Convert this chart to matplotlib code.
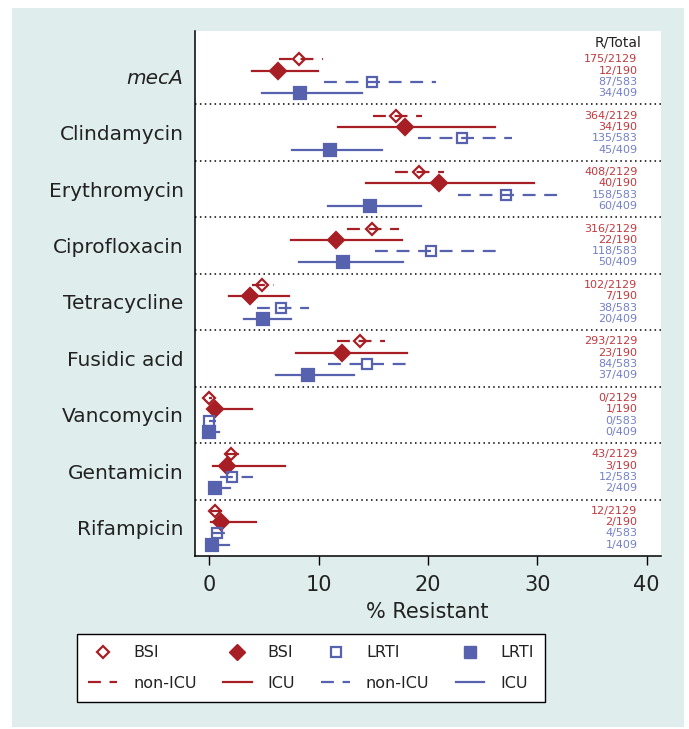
import numpy as np
import matplotlib
import matplotlib.pyplot as plt
from matplotlib.lines import Line2D
from matplotlib.patches import Rectangle

matplotlib.use('agg')

# =============================================================================
# data
drugs = ['mecA', 'Clindamycin', 'Erythromycin', 'Ciprofloxacin', 'Tetracycline',
         'Fusidic acid', 'Vancomycin', 'Gentamicin', 'Rifampicin']

# BSI non-ICU (n=2129)
bsi_non_r = [175, 364, 408, 316, 102, 293, 0, 43, 12]
bsi_non_pct = [8.22, 17.10, 19.16, 14.84, 4.79, 13.76, 0.0, 2.02, 0.56]
bsi_non_lo = [6.4, 14.95, 16.96, 12.57, 3.88, 11.71, 0.0, 1.5, 0.15]
bsi_non_hi = [10.4, 19.49, 21.5, 17.39, 5.95, 16.07, 0.2, 2.7, 1.2]

# BSI ICU (n=190)
bsi_icu_r = [12, 34, 40, 22, 7, 23, 1, 3, 2]
bsi_icu_pct = [6.32, 17.89, 21.05, 11.58, 3.68, 12.11, 0.53, 1.58, 1.05]
bsi_icu_lo = [3.94, 11.8, 14.36, 7.45, 1.83, 7.93, 0.01, 0.37, 0.13]
bsi_icu_hi = [9.97, 26.17, 29.73, 17.6, 7.26, 18.06, 3.88, 6.95, 4.27]

# LRTI non-ICU (n=583)
lrti_non_r = [87, 135, 158, 118, 38, 84, 0, 12, 4]
lrti_non_pct = [14.92, 23.16, 27.10, 20.24, 6.52, 14.41, 0.0, 2.06, 0.69]
lrti_non_lo = [10.52, 19.07, 22.73, 15.16, 4.33, 10.89, 0.0, 0.98, 0.2]
lrti_non_hi = [20.71, 27.67, 32.02, 26.35, 9.15, 18.76, 0.6, 3.97, 1.44]

# LRTI ICU (n=409)
lrti_icu_r = [34, 45, 60, 50, 20, 37, 0, 2, 1]
lrti_icu_pct = [8.31, 11.00, 14.67, 12.22, 4.89, 9.05, 0.0, 0.49, 0.24]
lrti_icu_lo = [4.85, 7.54, 10.89, 8.23, 3.2, 6.1, 0.0, 0.06, 0.01]
lrti_icu_hi = [13.94, 15.77, 19.4, 17.75, 7.45, 13.24, 0.9, 1.89, 1.8]

totals = [2129, 190, 583, 409]
# =============================================================================

red = '#a81e25'
blue = '#5762ae'
red_txt = '#c0393f'
blue_txt = '#7480c4'
dash = (0, (5.8, 3.9))

series = [
    (bsi_non_r, bsi_non_pct, bsi_non_lo, bsi_non_hi),
    (bsi_icu_r, bsi_icu_pct, bsi_icu_lo, bsi_icu_hi),
    (lrti_non_r, lrti_non_pct, lrti_non_lo, lrti_non_hi),
    (lrti_icu_r, lrti_icu_pct, lrti_icu_lo, lrti_icu_hi),
]
colors = [red, red, blue, blue]
txt_colors = [red_txt, red_txt, blue_txt, blue_txt]
lstyles = [dash, '-', dash, '-']
markers = ['D', 'D', 's', 's']
msizes = [6.6, 8.2, 7.2, 8.8]
filled = [False, True, False, True]

plt.rcParams['font.family'] = 'DejaVu Sans'

fig = plt.figure(figsize=(6.89, 7.29), dpi=100, facecolor='white')
fig.patches.append(Rectangle((0.0174, 0.0027), 0.9753, 0.9863, transform=fig.transFigure,
                             facecolor='#e0eded', edgecolor='none', zorder=-10))
ax = fig.add_axes([0.2826, 0.2373, 0.6764, 0.7202])
ax.set_facecolor('white')

n = len(drugs)
for s, (r, pct, lo, hi) in enumerate(series):
    ys = np.arange(n) * 5 + s
    for i in range(n):
        ax.plot([lo[i], hi[i]], [ys[i], ys[i]], color=colors[s], lw=1.6,
                linestyle=lstyles[s], zorder=2)
    ax.plot(pct, ys, linestyle='none', marker=markers[s], ms=msizes[s],
            markerfacecolor=colors[s] if filled[s] else 'none',
            markeredgecolor=colors[s], markeredgewidth=1.6, zorder=3)
    for i in range(n):
        ax.text(0.950, ys[i], '%d/%d' % (r[i], totals[s]), color=txt_colors[s],
                fontsize=8, ha='right', va='center',
                transform=ax.get_yaxis_transform())

# separators between groups
for g in range(n - 1):
    ax.axhline(g * 5 + 4, color='black', lw=1.1, linestyle=(0, (1, 2.2)), zorder=1)

ax.text(0.958, -1.45, 'R/Total', fontsize=10, ha='right', va='center',
        color='#222222', transform=ax.get_yaxis_transform())

ax.set_xlim(-1.34, 41.3)
ax.set_ylim(44, -2.5)
ax.set_xticks([0, 10, 20, 30, 40])
ax.set_yticks(np.arange(n) * 5 + 1.5)
ax.set_yticklabels(drugs)
ax.get_yticklabels()[0].set_fontstyle('italic')
ax.tick_params(axis='y', length=0, pad=8, labelsize=14.5, labelcolor='#222222')
ax.tick_params(axis='x', length=6.5, width=1, pad=7, labelsize=15, labelcolor='#222222')
ax.set_xlabel('% Resistant', fontsize=15, color='#222222', labelpad=5)
for side in ['top', 'right']:
    ax.spines[side].set_visible(False)
for side in ['left', 'bottom']:
    ax.spines[side].set_linewidth(1.1)

# legend
handles = [
    Line2D([], [], linestyle='none', marker='D', ms=6.6, markerfacecolor='none',
           markeredgecolor=red, markeredgewidth=1.6),
    Line2D([], [], color=red, lw=1.6, linestyle=dash),
    Line2D([], [], linestyle='none', marker='D', ms=8.2, color=red),
    Line2D([], [], color=red, lw=1.6),
    Line2D([], [], linestyle='none', marker='s', ms=6.5, markerfacecolor='none',
           markeredgecolor=blue, markeredgewidth=1.6),
    Line2D([], [], color=blue, lw=1.6, linestyle=dash),
    Line2D([], [], linestyle='none', marker='s', ms=8.5, color=blue),
    Line2D([], [], color=blue, lw=1.6),
]
labels = ['BSI', 'non-ICU', 'BSI', 'ICU', 'LRTI', 'non-ICU', 'LRTI', 'ICU']
leg = fig.legend(handles, labels, ncol=4, loc='center',
                 bbox_to_anchor=(0.112, 0.0357, 0.679, 0.096),
                 bbox_transform=fig.transFigure, mode='expand', borderaxespad=0,
                 fontsize=11.5, handlelength=1.8, handletextpad=1.0,
                 labelspacing=0.95, columnspacing=1.9, fancybox=False,
                 framealpha=1, facecolor='white', edgecolor='black',
                 borderpad=0.7)
leg.get_frame().set_linewidth(1.0)
for t in leg.get_texts():
    t.set_color('#222222')

fig.savefig('out.png', dpi=100, facecolor='white')
